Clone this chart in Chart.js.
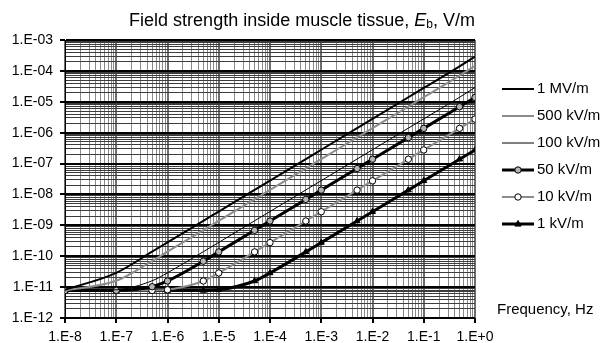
<!DOCTYPE html>
<html>
<head>
<meta charset="utf-8">
<script src="https://cdn.jsdelivr.net/npm/chart.js@4.4.1/dist/chart.umd.min.js"></script>
<style>
  html, body { margin: 0; padding: 0; background: #fff; }
  #wrap { position: relative; width: 603px; height: 343px; }
</style>
</head>
<body>
<div id="wrap"><canvas id="c" width="603" height="343"></canvas></div>
<script>
// ---- data ----
const frequencies = [1e-8, 1e-7, 5e-7, 1e-6, 5e-6, 1e-5, 5e-5, 1e-4, 5e-4, 1e-3, 5e-3, 1e-2, 5e-2, 1e-1, 5e-1, 1];
const seriesNames = ["1 MV/m", "500 kV/m", "100 kV/m", "50 kV/m", "10 kV/m", "1 kV/m"];
const e1MV   = [8.2e-12, 2.9e-11, 1.4e-10, 2.8e-10, 1.4e-9, 2.8e-9, 1.4e-8, 2.8e-8, 1.4e-7, 2.8e-7, 1.4e-6, 2.8e-6, 1.4e-5, 2.8e-5, 1.4e-4, 2.9e-4];
const e500kV = [7.8e-12, 1.6e-11, 7.0e-11, 1.4e-10, 7.0e-10, 1.4e-9, 7.0e-9, 1.4e-8, 7.0e-8, 1.4e-7, 7.0e-7, 1.4e-6, 7.0e-6, 1.4e-5, 7.0e-5, 1.45e-4];
const e100kV = [7.7e-12, 8.2e-12, 1.6e-11, 2.9e-11, 1.4e-10, 2.8e-10, 1.4e-9, 2.8e-9, 1.4e-8, 2.8e-8, 1.4e-7, 2.8e-7, 1.4e-6, 2.8e-6, 1.4e-5, 2.9e-5];
const e50kV  = [7.7e-12, 7.8e-12, 1.03e-11, 1.58e-11, 6.9e-11, 1.38e-10, 6.9e-10, 1.38e-9, 6.9e-9, 1.38e-8, 6.9e-8, 1.38e-7, 6.9e-7, 1.38e-6, 6.9e-6, 1.38e-5];
const e10kV  = [7.7e-12, 7.7e-12, 7.8e-12, 8.2e-12, 1.58e-11, 2.87e-11, 1.38e-10, 2.76e-10, 1.38e-9, 2.76e-9, 1.38e-8, 2.76e-8, 1.38e-7, 2.76e-7, 1.38e-6, 2.76e-6];
const e1kV   = [7.7e-12, 7.7e-12, 7.7e-12, 7.7e-12, 7.8e-12, 8.2e-12, 1.58e-11, 2.87e-11, 1.38e-10, 2.76e-10, 1.38e-9, 2.76e-9, 1.38e-8, 2.76e-8, 1.38e-7, 2.76e-7];
const xTickLabels = ["1.E-8", "1.E-7", "1.E-6", "1.E-5", "1.E-4", "1.E-3", "1.E-2", "1.E-1", "1.E+0"];
const yTickLabels = ["1.E-12", "1.E-11", "1.E-10", "1.E-09", "1.E-08", "1.E-07", "1.E-06", "1.E-05", "1.E-04", "1.E-03"];
const titleText = ["Field strength inside muscle tissue, ", "E", "b", ", V/m"];
const xAxisTitle = "Frequency, Hz";

const FONT = "'Liberation Sans', Arial, sans-serif";
const toPts = arr => frequencies.map((f, i) => ({ x: f, y: arr[i] }));

function logTicks(minExp, maxExp) {
  const t = [];
  for (let e = minExp; e <= maxExp; e++) {
    t.push({ value: Math.pow(10, e) });
    if (e < maxExp) for (let m = 2; m <= 9; m++) t.push({ value: m * Math.pow(10, e) });
  }
  return t;
}
function isMajor(v) {
  const l = Math.log10(v);
  return Math.abs(l - Math.round(l)) < 1e-6;
}
function decadeIndex(v, minExp) { return Math.round(Math.log10(v)) - minExp; }

const datasets = [
  { label: seriesNames[0], data: toPts(e1MV),   borderColor: '#000', borderWidth: 2,   pointRadius: 0 },
  { label: seriesNames[1], data: toPts(e500kV), borderColor: '#8c8c8c', borderWidth: 2, pointRadius: 0 },
  { label: seriesNames[2], data: toPts(e100kV), borderColor: '#000', borderWidth: 1,   pointRadius: 0 },
  { label: seriesNames[3], data: toPts(e50kV),  borderColor: '#000', borderWidth: 3,
    pointRadius: 3.2, pointStyle: 'circle', pointBackgroundColor: '#b4b4b4', pointBorderColor: '#000', pointBorderWidth: 1 },
  { label: seriesNames[4], data: toPts(e10kV),  borderColor: '#8c8c8c', borderWidth: 2,
    pointRadius: 3.2, pointStyle: 'circle', pointBackgroundColor: '#fff', pointBorderColor: '#000', pointBorderWidth: 1 },
  { label: seriesNames[5], data: toPts(e1kV),   borderColor: '#000', borderWidth: 3,
    pointRadius: 3.5, pointStyle: 'triangle', pointBackgroundColor: '#000', pointBorderColor: '#000', pointBorderWidth: 1 }
];
datasets.forEach(d => { d.fill = false; d.cubicInterpolationMode = 'monotone'; d.pointHoverRadius = d.pointRadius; });

const decorPlugin = {
  id: 'decor',
  afterDraw(chart) {
    const ctx = chart.ctx;
    ctx.save();
    // title
    const fs = 18;
    const parts = [
      { t: titleText[0], f: `${fs}px ${FONT}`, dy: 0 },
      { t: titleText[1], f: `italic ${fs}px ${FONT}`, dy: 0 },
      { t: titleText[2], f: `${Math.round(fs * 0.66)}px ${FONT}`, dy: 4 },
      { t: titleText[3], f: `${fs}px ${FONT}`, dy: 0 }
    ];
    let total = 0;
    parts.forEach(p => { ctx.font = p.f; p.w = ctx.measureText(p.t).width; total += p.w; });
    let x = 302 - total / 2;
    const ty = 21;
    ctx.fillStyle = '#000';
    ctx.textBaseline = 'middle';
    ctx.textAlign = 'left';
    parts.forEach(p => { ctx.font = p.f; ctx.fillText(p.t, x, ty + p.dy); x += p.w; });
    // x axis title
    ctx.font = `15px ${FONT}`;
    ctx.fillText(xAxisTitle, 497, 310);
    // legend
    chart.data.datasets.forEach((d, i) => {
      const ly = 89 + 27 * i;
      ctx.strokeStyle = d.borderColor;
      ctx.lineWidth = d.borderWidth;
      ctx.beginPath(); ctx.moveTo(502, ly); ctx.lineTo(534, ly); ctx.stroke();
      if (d.pointRadius > 0) {
        ctx.fillStyle = d.pointBackgroundColor;
        ctx.strokeStyle = d.pointBorderColor;
        ctx.lineWidth = d.pointBorderWidth;
        ctx.beginPath();
        if (d.pointStyle === 'circle') {
          ctx.arc(518, ly, d.pointRadius, 0, Math.PI * 2);
        } else {
          const r = d.pointRadius;
          ctx.moveTo(518, ly - r); ctx.lineTo(518 + r * 0.9, ly + r * 0.6); ctx.lineTo(518 - r * 0.9, ly + r * 0.6); ctx.closePath();
        }
        ctx.fill(); ctx.stroke();
      }
      ctx.fillStyle = '#000';
      ctx.font = `15px ${FONT}`;
      ctx.fillText(d.label, 537, ly);
    });
    ctx.restore();
  }
};

new Chart(document.getElementById('c'), {
  type: 'line',
  data: { datasets },
  options: {
    responsive: false,
    animation: false,
    events: [],
    layout: { padding: { left: 0, right: 128, top: 40, bottom: 0 } },
    plugins: { legend: { display: false }, tooltip: { enabled: false }, title: { display: false } },
    scales: {
      x: {
        type: 'logarithmic', min: 1e-8, max: 1,
        afterBuildTicks: s => { s.ticks = logTicks(-8, 0); },
        afterFit: s => { s.height = 25; },
        border: { color: '#000', width: 1 },
        grid: {
          color: c => isMajor(c.tick.value) ? '#6e6e6e' : '#8a8a8a',
          lineWidth: c => isMajor(c.tick.value) ? 2 : 1,
          tickColor: c => isMajor(c.tick.value) ? '#000' : 'rgba(0,0,0,0)',
          tickLength: 5
        },
        ticks: {
          autoSkip: false, maxRotation: 0, minRotation: 0, padding: 6,
          color: '#000', font: { family: FONT, size: 14 },
          callback: v => isMajor(v) ? xTickLabels[decadeIndex(v, -8)] : ''
        }
      },
      y: {
        type: 'logarithmic', min: 1e-12, max: 1e-3,
        afterBuildTicks: s => { s.ticks = logTicks(-12, -3); },
        afterFit: s => { s.width = 65; },
        border: { color: '#000', width: 1 },
        grid: {
          color: c => isMajor(c.tick.value) ? '#000' : '#3c3c3c',
          lineWidth: c => isMajor(c.tick.value) ? 2 : 1,
          tickColor: c => isMajor(c.tick.value) ? '#000' : 'rgba(0,0,0,0)',
          tickLength: 5
        },
        ticks: {
          autoSkip: false, padding: 7,
          color: '#000', font: { family: FONT, size: 14 },
          callback: v => isMajor(v) ? yTickLabels[decadeIndex(v, -12)] : ''
        }
      }
    }
  },
  plugins: [decorPlugin]
});
</script>
</body>
</html>
